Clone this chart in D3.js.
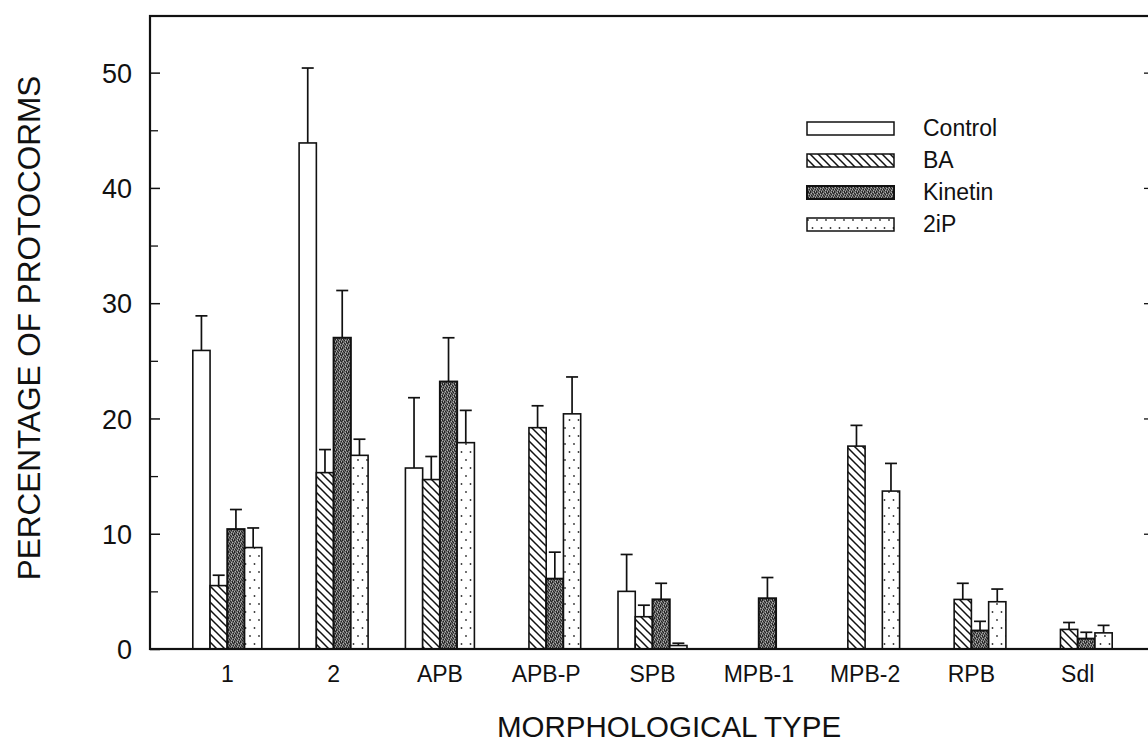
<!DOCTYPE html>
<html>
<head>
<meta charset="utf-8">
<script src="https://cdn.jsdelivr.net/npm/d3@7"></script>
<style>
  html, body { margin: 0; padding: 0; background: #fff; }
  svg { display: block; font-family: "Liberation Sans", Arial, Helvetica, sans-serif; }
</style>
</head>
<body>
<svg id="chart" width="1148" height="753"></svg>
<script>
const categories = ["1", "2", "APB", "APB-P", "SPB", "MPB-1", "MPB-2", "RPB", "Sdl"];
const seriesNames = ["Control", "BA", "Kinetin", "2iP"];
const controlValues = [25.9, 43.9, 15.7, 0, 5.0, 0, 0, 0, 0];
const controlErrors = [3.0, 6.5, 6.1, 0, 3.2, 0, 0, 0, 0];
const baValues = [5.5, 15.3, 14.7, 19.2, 2.8, 0, 17.6, 4.3, 1.7];
const baErrors = [0.9, 2.0, 2.0, 1.9, 1.0, 0, 1.8, 1.4, 0.6];
const kinetinValues = [10.4, 27.0, 23.2, 6.1, 4.3, 4.4, 0, 1.6, 0.9];
const kinetinErrors = [1.7, 4.1, 3.8, 2.3, 1.4, 1.8, 0, 0.8, 0.55];
const ip2Values = [8.8, 16.8, 17.9, 20.4, 0.3, 0, 13.7, 4.1, 1.4];
const ip2Errors = [1.7, 1.4, 2.8, 3.2, 0.2, 0, 2.4, 1.1, 0.65];
const yMajorTicks = [0, 10, 20, 30, 40, 50];
const yMinorTicks = [5, 15, 25, 35, 45];
const yTitle = "PERCENTAGE OF PROTOCORMS";
const xTitle = "MORPHOLOGICAL TYPE";

const seriesValues = [controlValues, baValues, kinetinValues, ip2Values];
const seriesErrors = [controlErrors, baErrors, kinetinErrors, ip2Errors];

const svg = d3.select("#chart");
const plotLeft = 150, plotRight = 1152, plotTop = 16, plotBottom = 649;

// patterns
const defs = svg.append("defs");
const hatch = defs.append("pattern").attr("id", "hatch")
  .attr("patternUnits", "userSpaceOnUse").attr("width", 8).attr("height", 8);
hatch.append("rect").attr("width", 8).attr("height", 8).attr("fill", "#fff");
hatch.append("path").attr("d", "M0,0 L8,8 M-2,6 L2,10 M6,-2 L10,2")
  .attr("stroke", "#111").attr("stroke-width", 1.5);

const stip = defs.append("pattern").attr("id", "stipple")
  .attr("patternUnits", "userSpaceOnUse").attr("width", 6).attr("height", 6);
stip.append("rect").attr("width", 6).attr("height", 6).attr("fill", "#666");
const darkPix = [[0,0],[2,1],[4,0],[1,3],[3,2],[5,3],[0,5],[2,4],[4,5],[5,1]];
const lightPix = [[1,1],[3,0],[5,5],[0,3],[3,4],[4,2]];
darkPix.forEach(p => stip.append("rect").attr("x", p[0]).attr("y", p[1]).attr("width", 1).attr("height", 1).attr("fill", "#222"));
lightPix.forEach(p => stip.append("rect").attr("x", p[0]).attr("y", p[1]).attr("width", 1).attr("height", 1).attr("fill", "#b0b0b0"));

const dots = defs.append("pattern").attr("id", "dots")
  .attr("patternUnits", "userSpaceOnUse").attr("width", 9).attr("height", 16);
dots.append("rect").attr("width", 9).attr("height", 16).attr("fill", "#fff");
dots.append("circle").attr("cx", 2.5).attr("cy", 4).attr("r", 0.9).attr("fill", "#333");
dots.append("circle").attr("cx", 7).attr("cy", 12).attr("r", 0.9).attr("fill", "#333");

const fills = ["#ffffff", "url(#hatch)", "url(#stipple)", "url(#dots)"];

// scales
const y = d3.scaleLinear().domain([0, 55]).range([plotBottom, 15]);
const x0 = d3.scaleBand().domain(categories).range([153, 1152]).paddingInner(0.351).paddingOuter(0.3745);
const x1 = d3.scaleBand().domain(seriesNames).range([0, x0.bandwidth()]);

// bars
const bars = [];
categories.forEach((c, i) => {
  seriesNames.forEach((s, j) => {
    bars.push({ cat: c, series: s, j: j, v: seriesValues[j][i], e: seriesErrors[j][i] });
  });
});
const shown = bars.filter(d => d.v > 0);

const g = svg.append("g");
const eb = g.selectAll(".err").data(shown).enter().append("g").attr("class", "err")
  .attr("stroke", "#111").attr("stroke-width", 1.7);
eb.append("line")
  .attr("x1", d => x0(d.cat) + x1(d.series) + x1.bandwidth() / 2)
  .attr("x2", d => x0(d.cat) + x1(d.series) + x1.bandwidth() / 2)
  .attr("y1", d => y(d.v)).attr("y2", d => y(d.v + d.e));
eb.append("line")
  .attr("x1", d => x0(d.cat) + x1(d.series) + x1.bandwidth() / 2 - 6)
  .attr("x2", d => x0(d.cat) + x1(d.series) + x1.bandwidth() / 2 + 6)
  .attr("y1", d => y(d.v + d.e)).attr("y2", d => y(d.v + d.e));

g.selectAll(".bar").data(shown).enter().append("rect").attr("class", "bar")
  .attr("x", d => x0(d.cat) + x1(d.series))
  .attr("width", x1.bandwidth())
  .attr("y", d => y(d.v))
  .attr("height", d => y(0) - y(d.v))
  .attr("fill", d => fills[d.j])
  .attr("stroke", "#111")
  .attr("stroke-width", d => d.j === 2 ? 2 : 1.6);

// axes
const yAxis = svg.append("g").attr("transform", `translate(${plotLeft},0)`)
  .call(d3.axisLeft(y).tickValues(yMajorTicks).tickSizeInner(-10).tickSizeOuter(0).tickPadding(18).tickFormat(d3.format("d")));
yAxis.select(".domain").remove();
yAxis.selectAll("line").attr("stroke", "#111").attr("stroke-width", 1.5);
yAxis.selectAll("text").attr("font-size", 27).attr("fill", "#111").attr("dy", "0.36em");

const yMinor = svg.append("g").attr("transform", `translate(${plotLeft},0)`)
  .call(d3.axisLeft(y).tickValues(yMinorTicks).tickSizeInner(-8).tickSizeOuter(0).tickFormat(""));
yMinor.select(".domain").remove();
yMinor.selectAll("line").attr("stroke", "#111").attr("stroke-width", 1.3);

const yRight = svg.append("g").attr("transform", `translate(${plotRight},0)`)
  .call(d3.axisLeft(y).tickValues(yMajorTicks.slice(1)).tickSizeInner(8).tickSizeOuter(0).tickFormat(""));
yRight.select(".domain").remove();
yRight.selectAll("line").attr("stroke", "#111").attr("stroke-width", 1.3);

const xAxis = svg.append("g").attr("transform", `translate(0,${plotBottom})`)
  .call(d3.axisBottom(x0).tickSize(0).tickPadding(17));
xAxis.select(".domain").remove();
xAxis.selectAll("text").attr("font-size", 23).attr("fill", "#111");

// frame
svg.append("rect").attr("x", plotLeft).attr("y", plotTop).attr("width", plotRight - plotLeft).attr("height", plotBottom - plotTop)
  .attr("fill", "none").attr("stroke", "#111").attr("stroke-width", 2.2);

// titles
svg.append("text").attr("transform", `translate(40,328) rotate(-90)`)
  .attr("text-anchor", "middle")
  .attr("font-size", 31.5).attr("fill", "#111").text(yTitle);
svg.append("text").attr("x", (plotLeft + plotRight) / 2 + 18).attr("y", 737)
  .attr("text-anchor", "middle").attr("font-size", 29.5).attr("fill", "#111").text(xTitle);

// legend
const lg = svg.append("g");
seriesNames.forEach((s, j) => {
  const yy = 122 + j * 32;
  lg.append("rect").attr("x", 807).attr("y", yy).attr("width", 87).attr("height", 13)
    .attr("fill", fills[j]).attr("stroke", "#111").attr("stroke-width", j === 2 ? 2 : 1.5);
  lg.append("text").attr("x", 923).attr("y", yy + 14).attr("font-size", 23).attr("fill", "#111").text(s);
});
</script>
</body>
</html>
